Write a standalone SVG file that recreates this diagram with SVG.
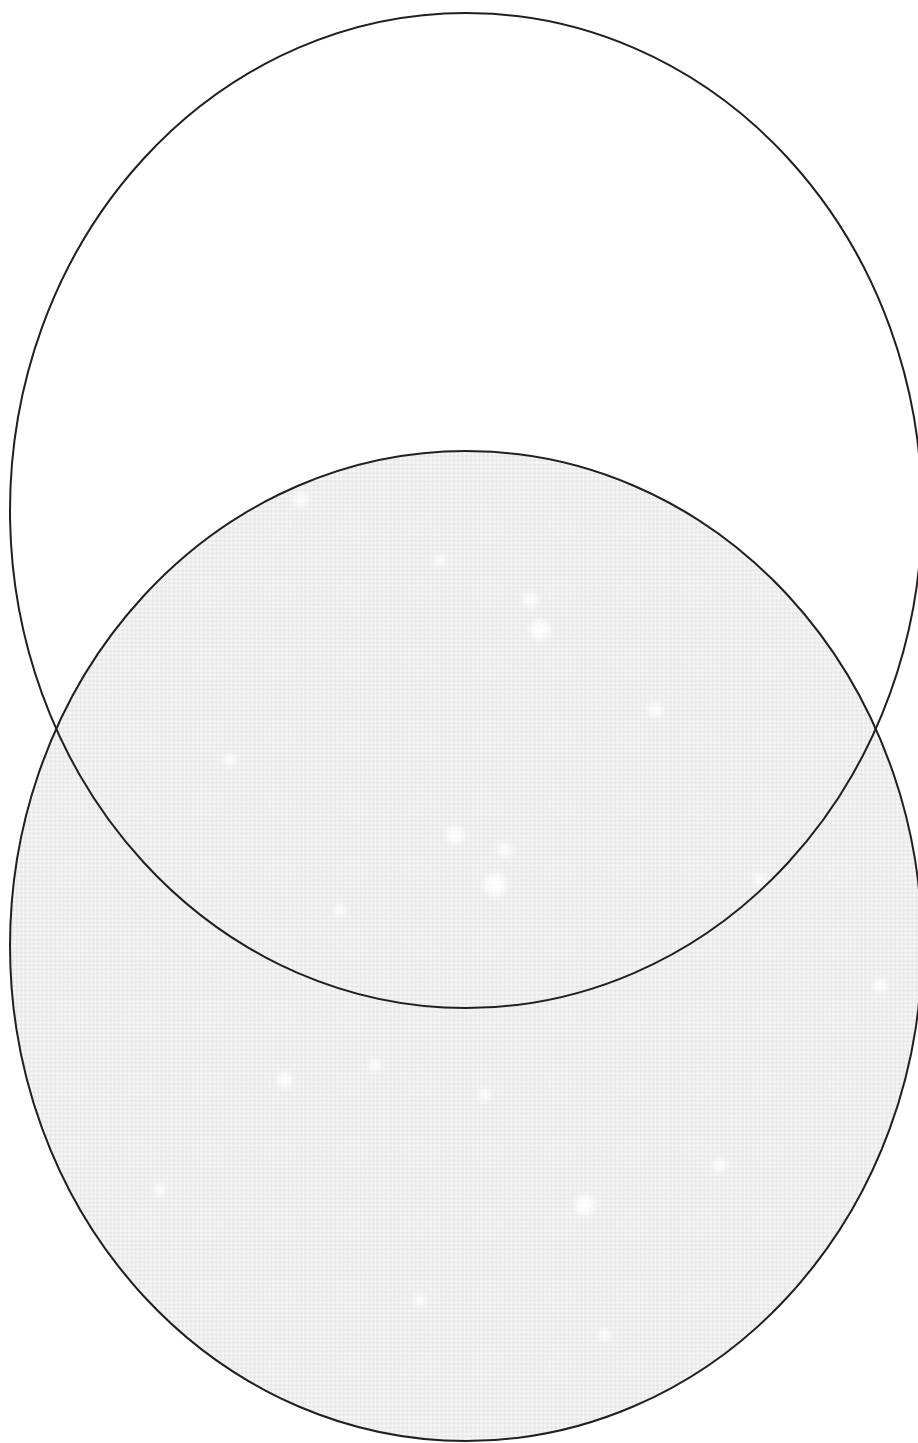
<svg xmlns="http://www.w3.org/2000/svg" width="918" height="1443" viewBox="0 0 918 1443">
  <defs>
    <pattern id="tex" width="6" height="6" patternUnits="userSpaceOnUse" patternTransform="rotate(45)">
      <rect width="6" height="6" fill="#f5f5f5"/>
      <rect width="3" height="3" fill="#e8e8e8"/>
      <rect x="3" y="3" width="3" height="3" fill="#e8e8e8"/>
    </pattern>
    <clipPath id="clipB">
      <ellipse cx="466" cy="946" rx="456" ry="495"/>
    </clipPath>
    <filter id="soft" x="-50%" y="-50%" width="200%" height="200%">
      <feGaussianBlur stdDeviation="3"/>
    </filter>
    <style>
      .outline { fill: none; stroke: #231f20; stroke-width: 2; }
      .spot { fill: #ffffff; opacity: 0.85; }
    </style>
  </defs>
  <rect width="918" height="1443" fill="#ffffff"/>
  <g id="bottom-ellipse">
    <ellipse cx="466" cy="946" rx="456" ry="495" fill="url(#tex)"/>
    <g clip-path="url(#clipB)">
      <g filter="url(#soft)">
        <circle class="spot" cx="540" cy="630" r="10"/>
        <circle class="spot" cx="530" cy="600" r="7"/>
        <circle class="spot" cx="455" cy="835" r="9"/>
        <circle class="spot" cx="495" cy="885" r="11"/>
        <circle class="spot" cx="505" cy="850" r="7"/>
        <circle class="spot" cx="300" cy="500" r="7"/>
        <circle class="spot" cx="440" cy="560" r="6"/>
        <circle class="spot" cx="655" cy="710" r="7"/>
        <circle class="spot" cx="340" cy="910" r="6"/>
        <circle class="spot" cx="585" cy="1205" r="10"/>
        <circle class="spot" cx="285" cy="1080" r="8"/>
        <circle class="spot" cx="375" cy="1065" r="6"/>
        <circle class="spot" cx="720" cy="1165" r="7"/>
        <circle class="spot" cx="485" cy="1095" r="6"/>
        <circle class="spot" cx="880" cy="985" r="7"/>
        <circle class="spot" cx="605" cy="1335" r="6"/>
        <circle class="spot" cx="230" cy="760" r="6"/>
        <circle class="spot" cx="760" cy="880" r="6"/>
        <circle class="spot" cx="160" cy="1190" r="6"/>
        <circle class="spot" cx="420" cy="1300" r="6"/>
      </g>
    </g>
    <ellipse class="outline" cx="466" cy="946" rx="456" ry="495"/>
  </g>
  <g id="top-ellipse">
    <ellipse class="outline" cx="466" cy="510.5" rx="456" ry="497.5"/>
  </g>
</svg>
